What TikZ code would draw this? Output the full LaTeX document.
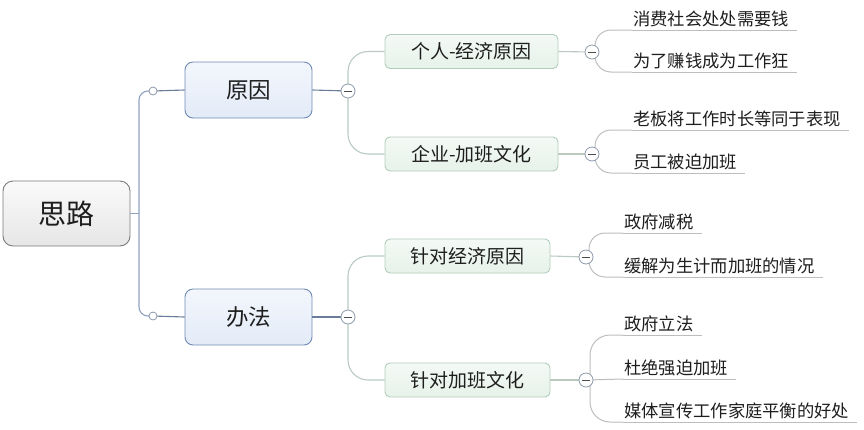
\documentclass[tikz,border=0pt]{standalone}
\usepackage{fontspec}
\newfontfamily\cjk{Noto Sans CJK SC}
\usetikzlibrary{calc}
\definecolor{rootborder}{HTML}{7A7A7A}
\definecolor{roottop}{HTML}{FAFAFA}
\definecolor{rootfill}{HTML}{E6E6E6}
\definecolor{oneborder}{HTML}{6F8AB3}
\definecolor{onetop}{HTML}{F3F6FC}
\definecolor{onefill}{HTML}{E3EBF8}
\definecolor{twoborder}{HTML}{B3CDBB}
\definecolor{twotop}{HTML}{F4F9F5}
\definecolor{twofill}{HTML}{E6F2EA}
\definecolor{rootline}{HTML}{8FA2C2}
\definecolor{oneline}{HTML}{6A7C99}
\definecolor{twoline}{HTML}{B9CBC1}
\definecolor{leafline}{HTML}{BDBDBD}
\definecolor{knob}{HTML}{8D9AAB}
\definecolor{txt}{HTML}{1E1E1E}
\tikzset{
  rootbox/.style={draw=rootborder, line width=0.9pt, rounded corners=10pt, top color=roottop, bottom color=rootfill,
    minimum width=127pt, minimum height=65pt, font=\cjk\fontsize{28}{32}\selectfont, text=txt},
  onebox/.style={draw=oneborder, line width=0.9pt, rounded corners=8pt, top color=onetop, bottom color=onefill,
    minimum width=127pt, minimum height=56pt, font=\cjk\fontsize{22.5}{26}\selectfont, text=txt},
  twobox/.style={draw=twoborder, line width=0.9pt, rounded corners=5pt, top color=twotop, bottom color=twofill,
    minimum height=34pt, font=\cjk\fontsize{19}{22}\selectfont, text=txt},
  leaf/.style={anchor=south west, inner xsep=1pt, inner ysep=2.5pt, font=\cjk\fontsize{17.3}{20}\selectfont, text=txt},
  hollow/.style={circle, draw=knob, fill=white, line width=0.8pt, minimum size=8pt, inner sep=0pt},
  minusknob/.style={circle, draw=knob, fill=white, line width=0.8pt, minimum size=14pt, inner sep=0pt,
    path picture={\draw[line width=0.9pt, black!70] ($(path picture bounding box.center)+(-3.8pt,0)$) -- ++(7.6pt,0);}},
  rline/.style={draw=rootline, line width=1.1pt},
  oline/.style={draw=oneline, line width=1.1pt},
  tline/.style={draw=twoline, line width=1.1pt},
  lline/.style={draw=leafline, line width=1pt},
}
\begin{document}
\begin{tikzpicture}[x=1pt,y=-1pt]
\useasboundingbox (0,0) rectangle (864,429);
% nodes
\node[rootbox] (root) at (66.5,213.5) {思路};
\node[onebox] (yy) at (248.5,90) {原因};
\node[onebox] (bf) at (248.5,317) {办法};
\node[twobox, minimum width=173pt] (grjj) at (471.5,51.5) {个人-经济原因};
\node[twobox, minimum width=173pt] (qyjb) at (471.5,154) {企业-加班文化};
\node[twobox, minimum width=165pt] (zdjj) at (467.5,256) {针对经济原因};
\node[twobox, minimum width=165pt] (zdjb) at (467.5,380) {针对加班文化};
% leaves
\node[leaf] (a1) at (632,30) {消费社会处处需要钱};
\node[leaf] (a2) at (632,72) {为了赚钱成为工作狂};
\node[leaf] (a3) at (632,130) {老板将工作时长等同于表现};
\node[leaf] (a4) at (632,173) {员工被迫加班};
\node[leaf] (b1) at (623,233) {政府减税};
\node[leaf] (b2) at (623,277) {缓解为生计而加班的情况};
\node[leaf] (b3) at (623,335) {政府立法};
\node[leaf] (b4) at (623,379) {杜绝强迫加班};
\node[leaf] (b5) at (623,422) {媒体宣传工作家庭平衡的好处};
\foreach \n in {a1,a2,a3,a4,b1,b2,b3,b4,b5}{
  \draw[lline] (\n.south west) -- ($(\n.south east)+(7,0)$);
}
% knobs positions
\coordinate (c1) at (153,91);
\coordinate (c2) at (153,316);
\coordinate (m1) at (348,91);
\coordinate (m2) at (348,317);
\coordinate (n1) at (592,52);
\coordinate (n2) at (592,154);
\coordinate (n3) at (586,257);
\coordinate (n4) at (586,380);
\coordinate (vj) at (139,213.5);
% root connectors
\draw[rline] (root.east) -- (vj);
\draw[rline, rounded corners=9pt] (c1) -| (vj) |- (c2);
\draw[oline] (c1) -- (yy.west);
\draw[oline] (c2) -- (bf.west);
\draw[oline] (yy.east) -- (m1);
\draw[oline] (bf.east) -- (m2);
% level two connectors
\draw[tline, rounded corners=20pt] (m1) |- (grjj.west);
\draw[tline, rounded corners=20pt] (m1) |- (qyjb.west);
\draw[tline, rounded corners=20pt] (m2) |- (zdjj.west);
\draw[tline, rounded corners=20pt] (m2) |- (zdjb.west);
\draw[tline] (grjj.east) -- (n1);
\draw[tline] (qyjb.east) -- (n2);
\draw[tline] (zdjj.east) -- (n3);
\draw[tline] (zdjb.east) -- (n4);
% leaf connectors
\draw[lline, rounded corners=16pt] ($(n1)+(3,0)$) |- (a1.south west);
\draw[lline, rounded corners=16pt] ($(n1)+(3,0)$) |- (a2.south west);
\draw[lline, rounded corners=16pt] ($(n2)+(3,0)$) |- (a3.south west);
\draw[lline, rounded corners=16pt] ($(n2)+(3,0)$) |- (a4.south west);
\draw[lline, rounded corners=16pt] ($(n3)+(3,0)$) |- (b1.south west);
\draw[lline, rounded corners=16pt] ($(n3)+(3,0)$) |- (b2.south west);
\draw[lline, rounded corners=20pt] ($(n4)+(4,0)$) |- (b3.south west);
\draw[lline] (n4) -- (b4.south west);
\draw[lline, rounded corners=20pt] ($(n4)+(4,0)$) |- (b5.south west);
% knobs
\node[hollow] (k1) at (c1) {};
\node[hollow] (k2) at (c2) {};
\node[minusknob] (k3) at (m1) {};
\node[minusknob] (k4) at (m2) {};
\node[minusknob] (k5) at (n1) {};
\node[minusknob] (k6) at (n2) {};
\node[minusknob] (k7) at (n3) {};
\node[minusknob] (k8) at (n4) {};
\end{tikzpicture}
\end{document}
